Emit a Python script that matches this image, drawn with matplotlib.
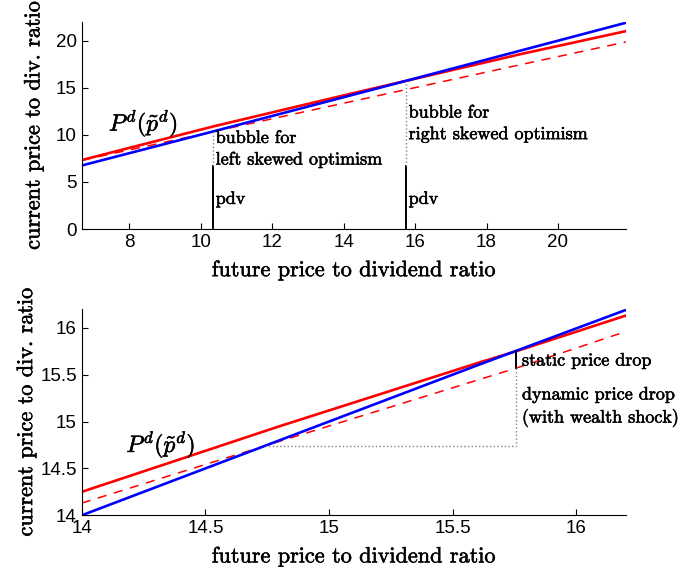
import matplotlib
matplotlib.use('Agg')
import matplotlib.pyplot as plt
import matplotlib.patheffects as pe

plt.rcParams['mathtext.fontset'] = 'cm'
plt.rcParams['axes.unicode_minus'] = False

# --- upper panel: full range ---
top_blue_x = [6.67, 10.35, 15.75, 21.9]
top_blue_y = [6.75, 10.37, 15.75, 21.92]
top_red_x = [6.67, 10.35, 14.0, 15.75, 18.97, 21.9]
top_red_y = [7.33, 10.9, 14.2, 15.75, 18.6, 21.03]
top_dash_x = [6.67, 10.35, 15.75, 18.97, 21.9]
top_dash_y = [7.3, 10.35, 14.82, 17.48, 19.88]
pdv_left, pdv_right = 10.35, 15.75
pdv_height = 6.7

# --- lower panel: zoom around the fixed point ---
bot_blue_x = [14.0, 14.8, 15.6, 16.2]
bot_blue_y = [14.0, 14.8, 15.6, 16.19]
bot_red_x = [14.0, 14.8, 15.62, 15.757, 16.2]
bot_red_y = [14.25, 14.95, 15.64, 15.75, 16.13]
bot_dash_x = [14.0, 14.74, 15.757, 16.2]
bot_dash_y = [14.13, 14.74, 15.57, 15.96]
p_static = 15.757
p_new = 14.74

tick_font = 'Liberation Sans'
serif = 'cmr10'
heavy = [pe.withStroke(linewidth=0.4, foreground='black')]
txt = dict(family=serif, fontsize=13, ha='left', va='center', path_effects=heavy)

fig = plt.figure(figsize=(6.81, 5.75), dpi=100)
ax1 = fig.add_axes([0.12, 0.6017, 0.799, 0.36])
ax2 = fig.add_axes([0.12, 0.1038, 0.799, 0.3588])

# upper panel
ax1.plot(top_red_x, top_red_y, color='red', lw=1.9)
ax1.plot(top_dash_x, top_dash_y, color='red', lw=1.1, dashes=(6, 5))
ax1.plot(top_blue_x, top_blue_y, color='blue', lw=1.9)
for xv, yv in [(pdv_left, 10.37), (pdv_right, 15.75)]:
    ax1.plot([xv, xv], [0, pdv_height], color='black', lw=1.4)
    ax1.plot([xv, xv], [pdv_height, yv], color='gray', lw=1, ls=':')
ax1.set_xlim(6.67, 21.9)
ax1.set_ylim(0, 22)
ax1.set_xticks([8, 10, 12, 14, 16, 18, 20])
ax1.set_yticks([0, 5, 10, 15, 20])

ax1.text(8.4, 11.2, r'$P^d(\tilde{p}^d)$', fontsize=17, ha='center', va='center',
         path_effects=heavy)
ax1.text(10.42, 8.5, 'bubble for\nleft skewed optimism', linespacing=1.45, **txt)
ax1.text(10.42, 3.2, 'pdv', **txt)
ax1.text(15.82, 11.2, 'bubble for\nright skewed optimism', linespacing=1.45, **txt)
ax1.text(15.82, 3.2, 'pdv', **txt)

# lower panel
ax2.plot(bot_red_x, bot_red_y, color='red', lw=1.9)
ax2.plot(bot_dash_x, bot_dash_y, color='red', lw=1.1, dashes=(6, 5))
ax2.plot(bot_blue_x, bot_blue_y, color='blue', lw=1.9)
ax2.plot([p_static, p_static], [15.75, 15.57], color='black', lw=1.4)
ax2.plot([p_static, p_static], [15.57, p_new], color='gray', lw=1, ls=':')
ax2.plot([p_new, p_static], [p_new, p_new], color='gray', lw=1, ls=':')
ax2.set_xlim(14, 16.2)
ax2.set_ylim(14, 16.2)
ax2.set_xticks([14, 14.5, 15, 15.5, 16])
ax2.set_xticklabels(['14', '14.5', '15', '15.5', '16'])
ax2.set_yticks([14, 14.5, 15, 15.5, 16])
ax2.set_yticklabels(['14', '14.5', '15', '15.5', '16'])

ax2.text(14.32, 14.75, r'$P^d(\tilde{p}^d)$', fontsize=17, ha='center', va='center',
         path_effects=heavy)
ax2.text(15.78, 15.65, 'static price drop', **txt)
ax2.text(15.78, 15.155, 'dynamic price drop\n(with wealth shock)', linespacing=1.45, **txt)

for ax, ypad in ((ax1, 9), (ax2, 3)):
    ax.spines['top'].set_visible(False)
    ax.spines['right'].set_visible(False)
    ax.tick_params(direction='in', length=4, width=0.8, labelsize=13.5)
    for lab in ax.get_xticklabels() + ax.get_yticklabels():
        lab.set_fontfamily(tick_font)
    ax.set_xlabel('future price to dividend ratio', family=serif, fontsize=16,
                  labelpad=7, path_effects=heavy)
    ax.set_ylabel('current price to div. ratio', family=serif, fontsize=16,
                  labelpad=ypad, path_effects=heavy)

fig.savefig('out.png', dpi=100)
